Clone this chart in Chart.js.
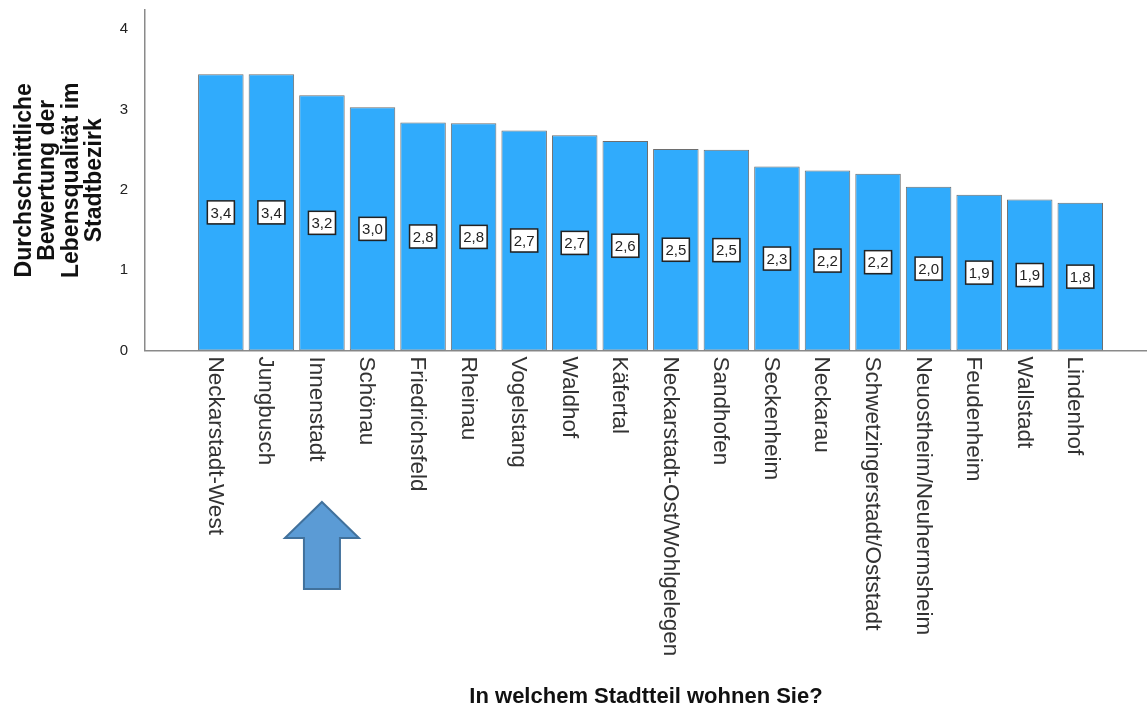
<!DOCTYPE html>
<html>
<head>
<meta charset="utf-8">
<script src="https://cdn.jsdelivr.net/npm/chart.js@4.4.1/dist/chart.umd.min.js"></script>
<style>
  html, body { margin: 0; padding: 0; background: #fff; }
</style>
</head>
<body>
<canvas id="chart" width="1147" height="708"></canvas>
<script>
const stadtteile = ['Neckarstadt-West', 'Jungbusch', 'Innenstadt', 'Schönau', 'Friedrichsfeld', 'Rheinau',
  'Vogelstang', 'Waldhof', 'Käfertal', 'Neckarstadt-Ost/Wohlgelegen', 'Sandhofen', 'Seckenheim',
  'Neckarau', 'Schwetzingerstadt/Oststadt', 'Neuostheim/Neuhermsheim', 'Feudenheim', 'Wallstadt', 'Lindenhof'];
const bewertung = [3.44, 3.44, 3.18, 3.03, 2.84, 2.83, 2.74, 2.68, 2.61, 2.51, 2.50, 2.29, 2.24, 2.20, 2.04, 1.94, 1.88, 1.84];
const yTicks = [0, 1, 2, 3, 4];
const markiert = 'Innenstadt';

const FONT = '"Liberation Sans", Arial, sans-serif';

// Wertekaestchen, gedrehte Stadtteilnamen und Pfeil
const beschriftung = {
  id: 'beschriftung',
  afterDatasetsDraw(chart) {
    const ctx = chart.ctx;
    const meta = chart.getDatasetMeta(0);
    const xs = chart.scales.x;
    ctx.save();

    meta.data.forEach((bar, i) => {
      const cy = (bar.y + bar.base) / 2;
      const w = 27, h = 23;
      ctx.fillStyle = 'rgba(0,0,0,0.2)';
      ctx.fillRect(bar.x - w / 2 + 1, cy - h / 2 + 1, w, h);
      ctx.fillStyle = '#fff';
      ctx.fillRect(bar.x - w / 2, cy - h / 2, w, h);
      ctx.strokeStyle = '#222';
      ctx.lineWidth = 1.5;
      ctx.strokeRect(bar.x - w / 2, cy - h / 2, w, h);
      ctx.fillStyle = '#222';
      ctx.font = '15px ' + FONT;
      ctx.textAlign = 'center';
      ctx.textBaseline = 'middle';
      ctx.fillText(bewertung[i].toFixed(1).replace('.', ','), bar.x, cy + 1);
    });

    ctx.font = '22.5px ' + FONT;
    ctx.fillStyle = '#333';
    ctx.textAlign = 'left';
    ctx.textBaseline = 'alphabetic';
    stadtteile.forEach((name, i) => {
      const x = xs.getPixelForValue(i);
      ctx.save();
      ctx.translate(x - 12, chart.chartArea.bottom + 6);
      ctx.rotate(Math.PI / 2);
      ctx.fillText(name, 0, 0);
      ctx.restore();
    });

    const ax = xs.getPixelForValue(stadtteile.indexOf(markiert));
    ctx.beginPath();
    ctx.moveTo(ax, 502);
    ctx.lineTo(ax + 37, 538);
    ctx.lineTo(ax + 18, 538);
    ctx.lineTo(ax + 18, 589);
    ctx.lineTo(ax - 18, 589);
    ctx.lineTo(ax - 18, 538);
    ctx.lineTo(ax - 37, 538);
    ctx.closePath();
    ctx.fillStyle = '#5b9bd5';
    ctx.fill();
    ctx.strokeStyle = '#41719c';
    ctx.lineWidth = 2;
    ctx.stroke();

    ctx.restore();
  }
};

new Chart(document.getElementById('chart'), {
  type: 'bar',
  data: {
    datasets: [{
      data: stadtteile.map((s, i) => ({ x: i, y: bewertung[i] })),
      backgroundColor: '#30abfc',
      borderColor: '#6e6e6e',
      borderWidth: 1,
      borderSkipped: false,
      barPercentage: 0.9,
      categoryPercentage: 1
    }]
  },
  options: {
    responsive: false,
    animation: false,
    events: [],
    layout: { padding: { top: 10, left: 0, right: 0, bottom: 0 } },
    plugins: {
      legend: { display: false },
      tooltip: { enabled: false }
    },
    scales: {
      x: {
        type: 'linear',
        offset: false,
        min: -1.5,
        max: 18.32,
        grid: { display: false },
        border: { color: '#8a8a8a', width: 1.5 },
        ticks: { display: false },
        title: {
          display: true,
          text: 'In welchem Stadtteil wohnen Sie?',
          color: '#111',
          font: { family: FONT, size: 22, weight: 'bold', lineHeight: 1 },
          padding: 0
        },
        afterFit(scale) {
          scale.height = 357.5;
          scale.paddingLeft = 0;
          scale.paddingRight = 0;
        }
      },
      y: {
        min: 0,
        max: 4.24,
        grid: { display: false },
        border: { color: '#8a8a8a', width: 1.5 },
        ticks: { color: '#222', padding: 9, font: { family: FONT, size: 15 } },
        afterBuildTicks(scale) { scale.ticks = yTicks.map(v => ({ value: v })); },
        title: {
          display: true,
          text: ['Durchschnittliche', 'Bewertung der', 'Lebensqualität im', 'Stadtbezirk'],
          color: '#111',
          font: { family: FONT, size: 23, weight: 'bold', lineHeight: 1.013 },
          padding: { top: 13, bottom: 0 }
        },
        afterFit(scale) {
          scale.width = 145;
          scale.paddingTop = 0;
          scale.paddingBottom = 0;
        }
      }
    }
  },
  plugins: [beschriftung]
});
</script>
</body>
</html>
